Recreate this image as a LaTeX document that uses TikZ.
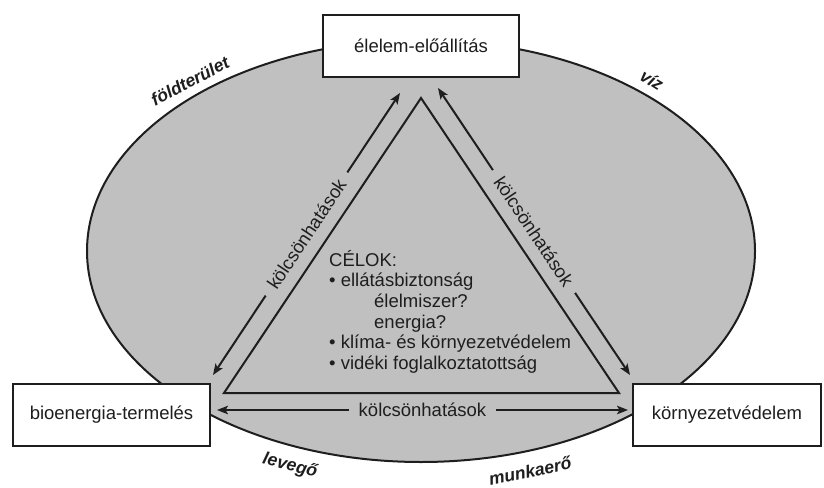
\documentclass[tikz,border=0pt]{standalone}
\usepackage{fontspec}
\setmainfont{Liberation Sans}
\usetikzlibrary{arrows.meta}
\definecolor{fillgray}{HTML}{C0C0C0}
\definecolor{ink}{HTML}{1E1E1E}
\begin{document}
\begin{tikzpicture}[x=1pt,y=-1pt,
  every node/.style={text=ink, font=\fontsize{18.5}{21}\selectfont},
  box/.style={draw=ink, line width=2.2pt, fill=white, inner sep=0pt, minimum height=62pt},
  link/.style={draw=ink, line width=2pt, {Stealth[length=11pt,width=8.5pt,inset=2.5pt]}-{Stealth[length=11pt,width=8.5pt,inset=2.5pt]}},
  linklabel/.style={fill=fillgray, inner xsep=10pt, inner ysep=2pt, sloped},
  resource/.style={font=\fontsize{17.5}{20}\selectfont\bfseries\itshape, inner sep=0pt},
  goal/.style={anchor=base west, inner sep=0pt}
]
\useasboundingbox (0,0) rectangle (824,487);

% ellipse background
\draw[draw=ink, line width=2pt, fill=fillgray] (421,251) ellipse [x radius=334, y radius=211];

% triangle
\draw[draw=ink, line width=2pt, line join=miter] (421,98) -- (224,393) -- (619,393) -- cycle;

% boxes
\node[box, minimum width=196pt] (food) at (421,46) {élelem-előállítás};
\node[box, minimum width=197pt] (bio) at (111.5,415) {bioenergia-termelés};
\node[box, minimum width=188pt] (env) at (727,415) {környezetvédelem};

% arrow end points
\coordinate (l1) at (213,375);
\coordinate (l2) at (400,93);
\coordinate (r1) at (438,88);
\coordinate (r2) at (630,375);
\coordinate (b1) at (217,410);
\coordinate (b2) at (628,410);

\draw[link] (l1) -- node[linklabel] (ll) {kölcsönhatások} (l2);
\draw[link] (r1) -- node[linklabel] (rl) {kölcsönhatások} (r2);
\draw[link] (b1) -- node[linklabel] (bl) {kölcsönhatások} (b2);

% goals text
\node[goal] (g1) at (329,266) {CÉLOK:};
\node[goal] (g2) at (329,286.7) {• ellátásbiztonság};
\node[goal] (g3) at (374,307.4) {élelmiszer?};
\node[goal] (g4) at (374,328.1) {energia?};
\node[goal] (g5) at (329,348.8) {• klíma- és környezetvédelem};
\node[goal] (g6) at (329,369.5) {• vidéki foglalkoztatottság};

% resource labels
\node[resource, rotate=28] (land) at (190,81) {földterület};
\node[resource, rotate=-32] (water) at (652,80) {víz};
\node[resource, rotate=-14] (air) at (290,466) {levegő};
\node[resource, rotate=12] (labour) at (530,471) {munkaerő};
\end{tikzpicture}
\end{document}
